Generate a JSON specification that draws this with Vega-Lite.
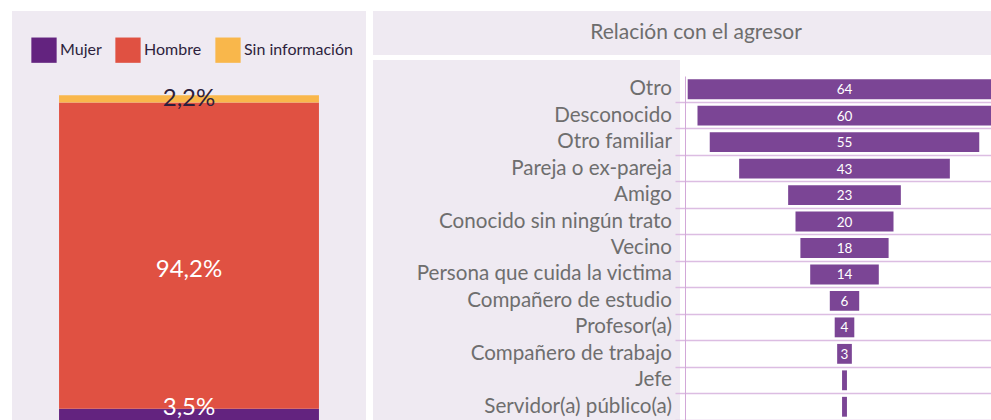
{
  "$schema": "https://vega.github.io/schema/vega-lite/v6.json",
  "padding": {"left": 12, "top": 11, "right": 0, "bottom": 0},
  "background": "white",
  "config": {"view": {"stroke": null}, "font": "Lato"},
  "datasets": {
    "sexo": [
      {"cat": "Mujer", "pct": 3.5, "etiqueta": "3,5%", "orden": 1},
      {"cat": "Hombre", "pct": 94.2, "etiqueta": "94,2%", "orden": 2},
      {"cat": "Sin información", "pct": 2.2, "etiqueta": "2,2%", "orden": 3}
    ],
    "rel": [
      {"rel": "Otro", "valor": 64},
      {"rel": "Desconocido", "valor": 60},
      {"rel": "Otro familiar", "valor": 55},
      {"rel": "Pareja o ex-pareja", "valor": 43},
      {"rel": "Amigo", "valor": 23},
      {"rel": "Conocido sin ningún trato", "valor": 20},
      {"rel": "Vecino", "valor": 18},
      {"rel": "Persona que cuida la victima", "valor": 14},
      {"rel": "Compañero de estudio", "valor": 6},
      {"rel": "Profesor(a)", "valor": 4},
      {"rel": "Compañero de trabajo", "valor": 3},
      {"rel": "Jefe", "valor": 1},
      {"rel": "Servidor(a) público(a)", "valor": 1}
    ],
    "titulo": [{"t": "Relación con el agresor"}]
  },
  "spacing": 7,
  "resolve": {"scale": {"x": "independent", "y": "independent", "color": "independent"}},
  "hconcat": [
    {
      "width": 354,
      "height": 409,
      "view": {"fill": "#efeaf2", "stroke": null},
      "data": {"name": "sexo"},
      "transform": [
        {"stack": "pct", "groupby": [], "sort": [{"field": "orden", "order": "ascending"}], "as": ["y0", "y1"]},
        {"calculate": "(datum.y0 + datum.y1) / 2", "as": "ym"}
      ],
      "encoding": {
        "x": {"datum": "s", "type": "nominal", "scale": {"paddingInner": 0, "paddingOuter": 0.181}, "axis": null}
      },
      "layer": [
        {
          "mark": {"type": "bar"},
          "encoding": {
            "y": {"field": "y0", "type": "quantitative", "scale": {"domain": [0, 125.85], "nice": false, "zero": false}, "axis": null},
            "y2": {"field": "y1"},
            "color": {
              "field": "cat",
              "type": "nominal",
              "scale": {"domain": ["Mujer", "Hombre", "Sin información"], "range": ["#63237f", "#e05142", "#f9b74b"]},
              "legend": {
                "title": null,
                "orient": "none",
                "legendX": 19,
                "legendY": 26,
                "direction": "horizontal",
                "symbolType": "square",
                "symbolSize": 640,
                "symbolStrokeWidth": 0,
                "symbolOpacity": 1,
                "labelFontSize": 16,
                "labelColor": "#2d1f3d",
                "labelFont": "Lato",
                "labelOffset": 3,
                "columnPadding": 13
              }
            }
          }
        },
        {
          "transform": [{"filter": "datum.cat === 'Hombre'"}],
          "mark": {"type": "text", "fontSize": 24, "baseline": "middle", "align": "center", "dy": 14, "color": "#ffffff"},
          "encoding": {
            "y": {"field": "ym", "type": "quantitative"},
            "text": {"field": "etiqueta"}
          }
        },
        {
          "transform": [{"filter": "datum.cat === 'Mujer'"}],
          "mark": {"type": "text", "fontSize": 24, "baseline": "middle", "align": "center", "dy": -6, "color": "#ffffff"},
          "encoding": {
            "y": {"field": "ym", "type": "quantitative"},
            "text": {"field": "etiqueta"}
          }
        },
        {
          "transform": [{"filter": "datum.cat === 'Sin información'"}],
          "mark": {"type": "text", "fontSize": 24, "baseline": "middle", "align": "center", "dy": 0, "color": "#2d1f3d"},
          "encoding": {
            "y": {"field": "ym", "type": "quantitative"},
            "text": {"field": "etiqueta"}
          }
        }
      ]
    },
    {
      "spacing": 5,
      "resolve": {"scale": {"x": "independent", "y": "independent"}},
      "vconcat": [
        {
          "width": 618,
          "height": 44,
          "view": {"fill": "#efeaf2", "stroke": null},
          "data": {"name": "titulo"},
          "mark": {"type": "text", "fontSize": 21, "color": "#6d6d6d", "align": "center", "baseline": "middle"},
          "encoding": {
            "x": {"datum": 0.5227, "type": "quantitative", "scale": {"domain": [0, 1]}, "axis": null},
            "y": {"datum": 0.5, "type": "quantitative", "scale": {"domain": [0, 1]}, "axis": null},
            "text": {"field": "t"}
          }
        },
        {
          "spacing": -6,
          "resolve": {"scale": {"x": "independent", "y": "independent"}},
          "hconcat": [
            {
              "width": 307,
              "height": 360,
              "view": {"fill": "#efeaf2", "stroke": null},
              "data": {"name": "rel"},
              "mark": {"type": "text", "align": "right", "baseline": "middle", "fontSize": 20.6, "color": "#6e6e6e", "dx": -8},
              "encoding": {
                "x": {"datum": 1, "type": "quantitative", "scale": {"domain": [0, 1]}, "axis": null},
                "y": {"field": "rel", "type": "nominal", "sort": null, "scale": {"range": [16, 360], "paddingInner": 0, "paddingOuter": 0}, "axis": null},
                "text": {"field": "rel"}
              }
            },
            {
              "width": 307,
              "height": 360,
              "data": {"name": "rel"},
              "encoding": {
                "y": {
                  "field": "rel",
                  "type": "nominal",
                  "sort": null,
                  "scale": {"range": [16, 360], "paddingInner": 0, "paddingOuter": 0},
                  "axis": {
                    "title": null,
                    "labels": false,
                    "domain": true,
                    "domainColor": "#d2a8d8",
                    "domainWidth": 1,
                    "ticks": true,
                    "tickSize": 10,
                    "tickColor": "#dcbde2",
                    "grid": true,
                    "gridColor": "#dcbde2",
                    "gridWidth": 1.5,
                    "tickWidth": 1.5,
                    "bandPosition": 1
                  }
                }
              },
              "layer": [
                {
                  "mark": {"type": "bar", "color": "#7b4595", "clip": true, "height": {"band": 0.75}},
                  "encoding": {
                    "x": {"field": "valor", "type": "quantitative", "stack": "center", "scale": {"domain": [-0.55, 62.1], "nice": false, "zero": false}, "axis": null}
                  }
                },
                {
                  "transform": [{"filter": "datum.valor > 2"}],
                  "mark": {"type": "text", "color": "#ffffff", "fontSize": 13.5, "baseline": "middle", "align": "center", "dy": 1},
                  "encoding": {
                    "x": {"datum": 32, "type": "quantitative"},
                    "text": {"field": "valor"}
                  }
                }
              ]
            }
          ]
        }
      ]
    }
  ]
}
